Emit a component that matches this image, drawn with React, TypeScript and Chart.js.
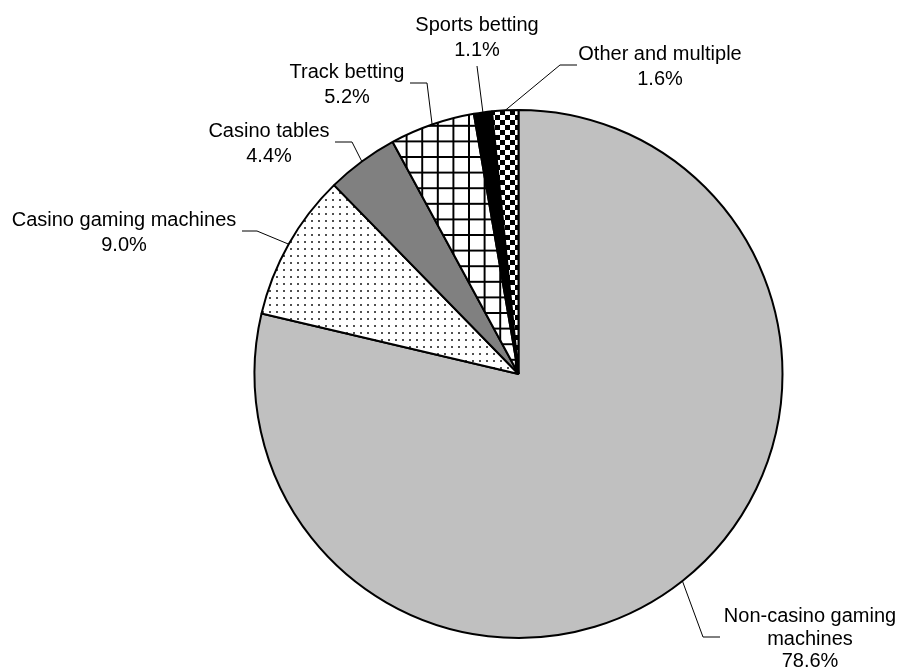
import React, { useEffect, useRef } from "react";
import { Chart, registerables } from "chart.js";

Chart.register(...registerables);

const categories = [
  "Non-casino gaming machines",
  "Casino gaming machines",
  "Casino tables",
  "Track betting",
  "Sports betting",
  "Other and multiple",
];
const shares = [78.6, 9.0, 4.4, 5.2, 1.1, 1.6];
const labelLines = [
  ["Non-casino gaming", "machines"],
  ["Casino gaming machines"],
  ["Casino tables"],
  ["Track betting"],
  ["Sports betting"],
  ["Other and multiple"],
];

// label layout: text centre x, first baseline y, line height, elbow, end of leader
const labelLayout = [
  { tx: 810, ty: 622, lh: 22.5, elbow: [703, 637], end: [720, 637] },
  { tx: 124, ty: 226, lh: 25, elbow: [257, 231], end: [242, 231] },
  { tx: 269, ty: 137, lh: 25, elbow: [352, 142], end: [335, 142] },
  { tx: 347, ty: 78, lh: 25, elbow: [427, 83], end: [410, 83] },
  { tx: 477, ty: 31, lh: 25, elbow: [477, 66], end: null },
  { tx: 660, ty: 60, lh: 25, elbow: [560, 65], end: [577, 65] },
];

function makeTile(size: number, draw: (c: CanvasRenderingContext2D) => void, scale = 1) {
  const cv = document.createElement("canvas");
  cv.width = size;
  cv.height = size;
  const c = cv.getContext("2d")!;
  draw(c);
  const p = c.createPattern(cv, "repeat")!;
  if (scale !== 1 && typeof DOMMatrix !== "undefined") {
    p.setTransform(new DOMMatrix().scale(scale));
  }
  return p;
}

function buildFills() {
  const dots = makeTile(7, (c) => {
    c.fillStyle = "#ffffff";
    c.fillRect(0, 0, 7, 7);
    c.fillStyle = "#505050";
    c.fillRect(3, 3, 2, 2);
  });
  const grid = makeTile(
    16,
    (c) => {
      c.fillStyle = "#ffffff";
      c.fillRect(0, 0, 16, 16);
      c.fillStyle = "#000000";
      c.fillRect(0, 0, 16, 2);
      c.fillRect(0, 0, 2, 16);
    },
    15.6 / 16
  );
  const checker = makeTile(10, (c) => {
    c.fillStyle = "#ffffff";
    c.fillRect(0, 0, 10, 10);
    c.fillStyle = "#000000";
    c.fillRect(0, 0, 5, 5);
    c.fillRect(5, 5, 5, 5);
  });
  return ["#c0c0c0", dots, "#808080", grid, "#000000", checker];
}

const FONT = "20px 'Liberation Sans', Arial, sans-serif";

const labelPlugin = {
  id: "pieLabels",
  afterDraw(chart: any) {
    const ctx = chart.ctx as CanvasRenderingContext2D;
    const meta = chart.getDatasetMeta(0);
    ctx.save();
    ctx.strokeStyle = "#000000";
    ctx.lineWidth = 1;
    ctx.fillStyle = "#000000";
    ctx.font = FONT;
    ctx.textAlign = "center";
    ctx.textBaseline = "alphabetic";
    meta.data.forEach((arc: any, i: number) => {
      const lay = labelLayout[i];
      const mid = (arc.startAngle + arc.endAngle) / 2;
      const sx = arc.x + arc.outerRadius * Math.cos(mid);
      const sy = arc.y + arc.outerRadius * Math.sin(mid);
      ctx.beginPath();
      ctx.moveTo(sx, sy);
      ctx.lineTo(lay.elbow[0], lay.elbow[1]);
      if (lay.end) ctx.lineTo(lay.end[0], lay.end[1]);
      ctx.stroke();
      const lines = [...labelLines[i], shares[i].toFixed(1) + "%"];
      lines.forEach((t, k) => {
        ctx.fillText(t, lay.tx, lay.ty + k * lay.lh);
      });
    });
    ctx.restore();
  },
};

export default function App() {
  const ref = useRef<HTMLCanvasElement | null>(null);
  useEffect(() => {
    if (!ref.current) return;
    const chart = new Chart(ref.current, {
      type: "pie",
      data: {
        labels: categories,
        datasets: [
          {
            data: shares,
            backgroundColor: buildFills() as any,
            borderColor: "#000000",
            borderWidth: 2,
          },
        ],
      },
      options: {
        animation: false,
        responsive: false,
        devicePixelRatio: 1,
        radius: 264,
        layout: { padding: { left: 254, right: 117, top: 110, bottom: 33 } },
        plugins: {
          legend: { display: false },
          tooltip: { enabled: false },
          title: { display: false },
        },
      } as any,
      plugins: [labelPlugin],
    });
    return () => chart.destroy();
  }, []);
  return (
    <div style={{ position: "absolute", left: 0, top: 0, width: 900, height: 671, background: "#ffffff" }}>
      <canvas ref={ref} width={900} height={671} style={{ width: 900, height: 671 }} />
    </div>
  );
}
